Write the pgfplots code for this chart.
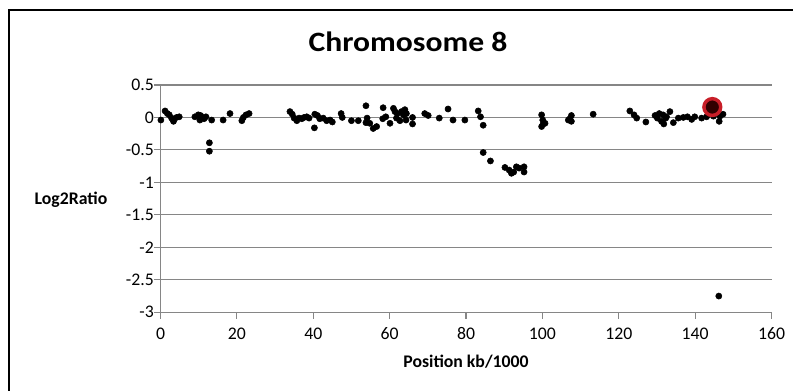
\documentclass[border=0pt]{standalone}
\usepackage{pgfplots}
\pgfplotsset{compat=1.18}
\usepackage{pgfplotstable}
\usepackage{fontspec}
\setmainfont{Carlito}
\definecolor{gridgray}{RGB}{134,134,134}
\definecolor{hired}{RGB}{200,30,40}
\definecolor{hidark}{RGB}{50,0,0}
\pgfplotstableread{
x y
0.1 -0.04
1.2 0.10
1.8 0.06
2.3 0.04
2.9 -0.01
3.4 -0.06
4.2 0.00
4.9 0.01
9.0 0.01
9.9 0.04
10.5 0.03
11.0 0.00
10.3 -0.04
11.4 -0.02
11.9 0.01
13.4 -0.04
12.8 -0.39
12.8 -0.52
16.4 -0.04
18.2 0.06
21.3 -0.05
21.7 0.00
22.4 0.04
23.2 0.06
33.9 0.09
34.5 0.05
35.0 -0.01
35.7 -0.05
36.3 -0.01
37.0 -0.02
37.6 0.00
38.3 0.01
38.9 -0.01
40.3 -0.16
40.4 0.05
41.1 0.03
41.7 -0.02
42.6 -0.01
43.5 -0.05
44.4 -0.04
45.0 -0.07
47.3 0.06
47.6 0.00
50.0 -0.05
51.8 -0.05
53.8 0.18
54.1 -0.01
53.8 -0.08
54.8 -0.09
55.7 -0.17
56.6 -0.14
58.3 0.15
58.2 -0.02
59.0 0.01
60.1 -0.09
61.0 0.14
61.4 0.09
61.8 -0.01
62.0 0.06
62.7 -0.05
63.1 0.09
63.6 0.04
64.0 0.12
64.3 -0.04
64.4 0.06
66.0 0.00
66.0 -0.10
69.2 0.06
70.1 0.03
73.0 -0.01
75.3 0.13
76.6 -0.04
79.7 -0.04
83.2 0.10
83.8 0.01
84.5 -0.12
84.5 -0.54
86.4 -0.67
90.2 -0.77
91.3 -0.81
91.9 -0.86
92.5 -0.84
93.2 -0.76
93.9 -0.78
95.2 -0.76
95.2 -0.84
99.8 0.04
100.1 -0.04
100.2 -0.10
99.8 -0.14
100.7 -0.09
106.8 -0.04
107.6 0.03
107.2 -0.02
107.6 -0.06
113.3 0.05
122.9 0.10
124.0 0.04
124.7 -0.01
127.1 -0.07
129.5 0.03
130.1 -0.01
130.6 0.06
131.2 -0.06
131.8 -0.10
132.3 -0.01
131.6 0.04
132.5 0.01
133.4 0.09
134.3 -0.08
135.6 -0.01
136.9 0.00
138.0 0.01
139.1 -0.03
139.9 0.01
141.7 -0.01
143.0 0.01
144.8 0.02
146.5 0.02
146.3 -0.06
147.3 0.05
146.2 -2.75
}\chromdata
\pgfplotstableread{
x y
144.5 0.16
}\highlight
\begin{document}
\begin{tikzpicture}[x=0.75pt,y=0.75pt]
\useasboundingbox (0,0) rectangle (793,390);
\draw[line width=1.6pt] (9,380) rectangle (820,-30);
\begin{axis}[
  at={(120.375pt,58.275pt)}, anchor=south west,
  scale only axis, width=458.25pt, height=170.5pt,
  xmin=0, xmax=160, ymin=-3, ymax=0.5,
  xtick={0,20,...,160},
  ytick={-3,-2.5,-2,-1.5,-1,-0.5,0,0.5},
  yticklabels={-3,-2.5,-2,-1.5,-1,-0.5,0,0.5},
  axis lines=left,
  axis line style={draw=gridgray,-},
  ymajorgrids, grid style={draw=gridgray, line width=0.8pt},
  tick align=outside,
  major tick length=5pt,
  tick style={draw=gridgray, line width=0.8pt},
  /pgf/number format/assume math mode=true,
  ticklabel style={font=\fontsize{13.3pt}{15pt}\selectfont},
  yticklabel style={xshift=3.5pt},
  xticklabel style={yshift=-3pt},
  title={\scalebox{1.13}[1]{\fontsize{21pt}{25pt}\selectfont\bfseries Chromosome 8}},
  title style={at={(axis description cs:0.405,1.11)}, anchor=base, yshift=0pt},
  xlabel={Position kb/1000},
  xlabel style={at={(axis description cs:0.5,-0.219)}, anchor=center, font=\fontsize{13.3pt}{15pt}\selectfont\bfseries},
  ylabel={Log2Ratio},
  ylabel style={at={(axis description cs:-0.1465,0.494)}, anchor=center, rotate=-90, font=\fontsize{13.3pt}{15pt}\selectfont\bfseries},
  clip=false,
]
\addplot[only marks, mark=*, mark size=2.3pt, black] table[x=x,y=y]{\chromdata};
\addplot[only marks, mark=*, mark size=6.3pt, mark options={draw=hired, fill=hidark, line width=2.6pt}] table[x=x,y=y]{\highlight};
\end{axis}
\end{tikzpicture}
\end{document}
